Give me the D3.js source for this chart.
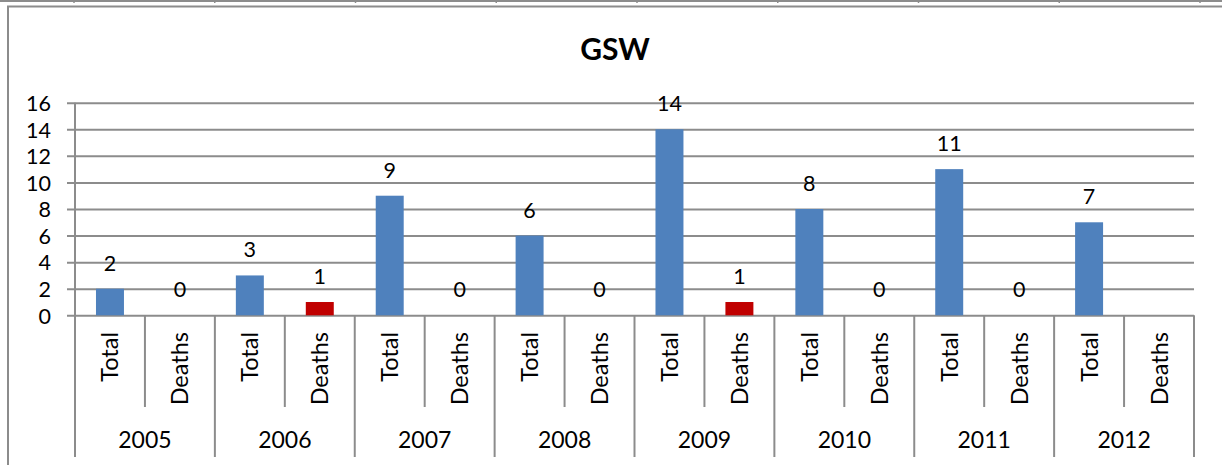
<!DOCTYPE html>
<html lang="en">
<head>
    <meta charset="UTF-8">
    <title>GSW</title>
    <script src="https://d3js.org/d3.v7.min.js"></script>
    <style>
        * {
            margin: 0;
            padding: 0;
        }
        body {
            background-color: white;
            font-family: Lato, "Open Sans", sans-serif;
            overflow: hidden;
        }
        text {
            fill: black;
            font-family: Lato, "Open Sans", sans-serif;
        }
    </style>
</head>
<body>
<svg id="chart" width="1222" height="465"></svg>
<script>
// chart data
const years = ["2005", "2006", "2007", "2008", "2009", "2010", "2011", "2012"];
const seriesNames = ["Total", "Deaths"];
const totalValues = [2, 3, 9, 6, 14, 8, 11, 7];
const deathValues = [0, 1, 0, 0, 1, 0, 0, null];
const yTicks = [0, 2, 4, 6, 8, 10, 12, 14, 16];
const chartTitle = "GSW";

const colors = { Total: "#4f81bd", Deaths: "#c00000" };
const lineColor = "#8c8c8c";

const W = 1222, H = 465;
const plot = { left: 75, right: 1194, top: 102.7, bottom: 315.3 };

const svg = d3.select("#chart");
svg.append("rect").attr("width", W).attr("height", H).attr("fill", "white");

// table row peeking in above the chart
svg.append("line")
    .attr("x1", 0).attr("x2", W).attr("y1", 1).attr("y2", 1)
    .attr("stroke", lineColor).attr("stroke-width", 2);
d3.range(9).forEach(i => {
    svg.append("line")
        .attr("x1", 74 + i * 140.75).attr("x2", 74 + i * 140.75)
        .attr("y1", 0).attr("y2", 3)
        .attr("stroke", lineColor).attr("stroke-width", 1.5);
});

// chart frame
svg.append("rect")
    .attr("x", 8).attr("y", 6.5)
    .attr("width", 1240).attr("height", 500)
    .attr("fill", "white")
    .attr("stroke", lineColor).attr("stroke-width", 2);

svg.append("text")
    .attr("x", 615).attr("y", 60)
    .attr("text-anchor", "middle")
    .style("font-size", "30px")
    .style("font-weight", "bold")
    .text(chartTitle);

// flatten to one row per bar
const rows = [];
years.forEach((year, i) => {
    rows.push({ year, series: "Total", value: totalValues[i] });
    rows.push({ year, series: "Deaths", value: deathValues[i] });
});

const x = d3.scaleBand()
    .domain(rows.map(d => d.year + "|" + d.series))
    .range([plot.left, plot.right])
    .padding(0);

const y = d3.scaleLinear()
    .domain([0, 16])
    .range([plot.bottom, plot.top]);

// gridlines + y tick labels
const yAxis = d3.axisLeft(y)
    .tickValues(yTicks)
    .tickSize(plot.right - 67)
    .tickPadding(16);

const gy = svg.append("g")
    .attr("transform", `translate(${plot.right},0)`)
    .call(yAxis);
gy.select(".domain").remove();
gy.selectAll(".tick line").attr("stroke", lineColor).attr("stroke-width", 2);
gy.selectAll(".tick text")
    .attr("dy", "0.36em")
    .style("font-size", "21.5px")
    .style("font-family", "Lato, sans-serif")
    .attr("fill", "black");

// vertical value axis line
svg.append("line")
    .attr("x1", plot.left).attr("x2", plot.left)
    .attr("y1", y(16)).attr("y2", plot.bottom)
    .attr("stroke", lineColor).attr("stroke-width", 2);

// category axis separators
const bw = x.bandwidth();
d3.range(rows.length + 1).forEach(i => {
    const xx = plot.left + i * bw;
    svg.append("line")
        .attr("x1", xx).attr("x2", xx)
        .attr("y1", plot.bottom)
        .attr("y2", i % 2 === 0 ? 457 : 407)
        .attr("stroke", lineColor).attr("stroke-width", 2);
});

// bars
const barW = bw * 0.4;
svg.selectAll("rect.bar")
    .data(rows.filter(d => d.value !== null))
    .enter().append("rect")
    .attr("class", "bar")
    .attr("x", d => x(d.year + "|" + d.series) + (bw - barW) / 2)
    .attr("y", d => y(d.value))
    .attr("width", barW)
    .attr("height", d => y(0) - y(d.value))
    .attr("fill", d => colors[d.series]);

// data labels
svg.selectAll("text.val")
    .data(rows.filter(d => d.value !== null))
    .enter().append("text")
    .attr("class", "val")
    .attr("x", d => x(d.year + "|" + d.series) + bw / 2)
    .attr("y", d => y(d.value) - 18)
    .attr("text-anchor", "middle")
    .style("font-size", "21.5px")
    .text(d => d.value);

// rotated series labels
svg.selectAll("text.ser")
    .data(rows)
    .enter().append("text")
    .attr("class", "ser")
    .attr("transform", d => `translate(${x(d.year + "|" + d.series) + bw / 2 + 8.5},332) rotate(-90)`)
    .attr("text-anchor", "end")
    .style("font-size", "23.5px")
    .text(d => d.series);

// year labels
svg.selectAll("text.yr")
    .data(years)
    .enter().append("text")
    .attr("class", "yr")
    .attr("x", d => x(d + "|Total") + bw)
    .attr("y", 448)
    .attr("text-anchor", "middle")
    .style("font-size", "23px")
    .text(d => d);
</script>
</body>
</html>
